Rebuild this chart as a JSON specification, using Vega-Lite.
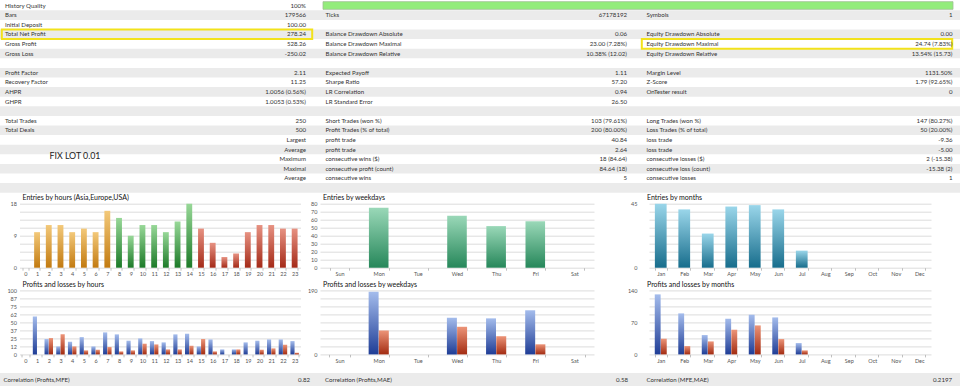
{
  "$schema": "https://vega.github.io/schema/vega-lite/v6.json",
  "padding": 0,
  "background": "white",
  "columns": 3,
  "spacing": {"row": 22.7, "column": 0},
  "bounds": "flush",
  "center": true,
  "config": {
    "view": {"stroke": null},
    "font": "Lato",
    "axis": {"labelFont": "Lato", "labelFontSize": 5.5, "labelColor": "#555", "domain": false, "ticks": false, "gridColor": "#d4d4d4", "gridWidth": 0.8, "labelPadding": 2},
    "axisX": {"grid": false, "ticks": true, "tickBand": "extent", "tickSize": 2.5, "tickColor": "#b0b0b0", "tickWidth": 0.8, "labelAngle": 0, "labelPadding": 1.5},
    "axisY": {"grid": true, "labelPadding": 3},
    "title": {"anchor": "start", "frame": "group", "font": "Lato", "fontSize": 7, "fontWeight": "normal", "color": "#111", "offset": 0.8, "dx": 3}
  },
  "datasets": {
    "rows": [{"row":0},{"row":1},{"row":2},{"row":3},{"row":4},{"row":5},{"row":6},{"row":7},{"row":8},{"row":9},{"row":10},{"row":11},{"row":12},{"row":13},{"row":14},{"row":15},{"row":16},{"row":17},{"row":18},{"row":19}],
    "quality": [{"row":0,"quality":100}],
    "highlights": [{"row":3,"col":"a"},{"row":4,"col":"c"}],
    "notes": [{"row":16,"col":"a","note":"FIX LOT 0.01"}],
    "table": [
      {"row":0,"col":"a","label":"History Quality","value":"100%"},
      {"row":1,"col":"a","label":"Bars","value":"179566"},
      {"row":1,"col":"b","label":"Ticks","value":"67178192"},
      {"row":1,"col":"c","label":"Symbols","value":"1"},
      {"row":2,"col":"a","label":"Initial Deposit","value":"100.00"},
      {"row":3,"col":"a","label":"Total Net Profit","value":"278.24"},
      {"row":3,"col":"b","label":"Balance Drawdown Absolute","value":"0.06"},
      {"row":3,"col":"c","label":"Equity Drawdown Absolute","value":"0.00"},
      {"row":4,"col":"a","label":"Gross Profit","value":"528.26"},
      {"row":4,"col":"b","label":"Balance Drawdown Maximal","value":"23.00 (7.28%)"},
      {"row":4,"col":"c","label":"Equity Drawdown Maximal","value":"24.74 (7.83%)"},
      {"row":5,"col":"a","label":"Gross Loss","value":"-250.02"},
      {"row":5,"col":"b","label":"Balance Drawdown Relative","value":"10.38% (12.02)"},
      {"row":5,"col":"c","label":"Equity Drawdown Relative","value":"13.54% (15.73)"},
      {"row":7,"col":"a","label":"Profit Factor","value":"2.11"},
      {"row":7,"col":"b","label":"Expected Payoff","value":"1.11"},
      {"row":7,"col":"c","label":"Margin Level","value":"1131.50%"},
      {"row":8,"col":"a","label":"Recovery Factor","value":"11.25"},
      {"row":8,"col":"b","label":"Sharpe Ratio","value":"57.20"},
      {"row":8,"col":"c","label":"Z-Score","value":"1.79 (92.65%)"},
      {"row":9,"col":"a","label":"AHPR","value":"1.0056 (0.56%)"},
      {"row":9,"col":"b","label":"LR Correlation","value":"0.94"},
      {"row":9,"col":"c","label":"OnTester result","value":"0"},
      {"row":10,"col":"a","label":"GHPR","value":"1.0053 (0.53%)"},
      {"row":10,"col":"b","label":"LR Standard Error","value":"26.50"},
      {"row":12,"col":"a","label":"Total Trades","value":"250"},
      {"row":12,"col":"b","label":"Short Trades (won %)","value":"103 (79.61%)"},
      {"row":12,"col":"c","label":"Long Trades (won %)","value":"147 (80.27%)"},
      {"row":13,"col":"a","label":"Total Deals","value":"500"},
      {"row":13,"col":"b","label":"Profit Trades (% of total)","value":"200 (80.00%)"},
      {"row":13,"col":"c","label":"Loss Trades (% of total)","value":"50 (20.00%)"},
      {"row":14,"col":"a","label":"","value":"Largest"},
      {"row":14,"col":"b","label":"profit trade","value":"40.84"},
      {"row":14,"col":"c","label":"loss trade","value":"-9.36"},
      {"row":15,"col":"a","label":"","value":"Average"},
      {"row":15,"col":"b","label":"profit trade","value":"2.64"},
      {"row":15,"col":"c","label":"loss trade","value":"-5.00"},
      {"row":16,"col":"a","label":"","value":"Maximum"},
      {"row":16,"col":"b","label":"consecutive wins ($)","value":"18 (84.64)"},
      {"row":16,"col":"c","label":"consecutive losses ($)","value":"2 (-15.38)"},
      {"row":17,"col":"a","label":"","value":"Maximal"},
      {"row":17,"col":"b","label":"consecutive profit (count)","value":"84.64 (18)"},
      {"row":17,"col":"c","label":"consecutive loss (count)","value":"-15.38 (2)"},
      {"row":18,"col":"a","label":"","value":"Average"},
      {"row":18,"col":"b","label":"consecutive wins","value":"5"},
      {"row":18,"col":"c","label":"consecutive losses","value":"1"}
    ],
    "bottom": [
      {"row":0,"col":"a","label":"Correlation (Profits,MFE)","value":"0.82"},
      {"row":0,"col":"b","label":"Correlation (Profits,MAE)","value":"0.58"},
      {"row":0,"col":"c","label":"Correlation (MFE,MAE)","value":"0.2197"}
    ],
    "hours": [
      {"hour":0,"session":"Asia","entries":0},{"hour":1,"session":"Asia","entries":10},{"hour":2,"session":"Asia","entries":12},{"hour":3,"session":"Asia","entries":12},
      {"hour":4,"session":"Asia","entries":10},{"hour":5,"session":"Asia","entries":11},{"hour":6,"session":"Asia","entries":10},{"hour":7,"session":"Asia","entries":16},
      {"hour":8,"session":"Europe","entries":14},{"hour":9,"session":"Europe","entries":9},{"hour":10,"session":"Europe","entries":12},{"hour":11,"session":"Europe","entries":12},
      {"hour":12,"session":"Europe","entries":10},{"hour":13,"session":"Europe","entries":13},{"hour":14,"session":"Europe","entries":18},
      {"hour":15,"session":"USA","entries":11},{"hour":16,"session":"USA","entries":7},{"hour":17,"session":"USA","entries":3},{"hour":18,"session":"USA","entries":4},
      {"hour":19,"session":"USA","entries":10},{"hour":20,"session":"USA","entries":12},{"hour":21,"session":"USA","entries":12},{"hour":22,"session":"USA","entries":11},{"hour":23,"session":"USA","entries":11}
    ],
    "hoursPL": [
      {"hour":0,"kind":"profit","amount":0},{"hour":0,"kind":"loss","amount":0},
      {"hour":1,"kind":"profit","amount":59.4},{"hour":1,"kind":"loss","amount":0},
      {"hour":2,"kind":"profit","amount":24},{"hour":2,"kind":"loss","amount":25.5},
      {"hour":3,"kind":"profit","amount":12.5},{"hour":3,"kind":"loss","amount":31.3},
      {"hour":4,"kind":"profit","amount":19.8},{"hour":4,"kind":"loss","amount":12.5},
      {"hour":5,"kind":"profit","amount":27},{"hour":5,"kind":"loss","amount":6.3},
      {"hour":6,"kind":"profit","amount":12.5},{"hour":6,"kind":"loss","amount":7.3},
      {"hour":7,"kind":"profit","amount":34.4},{"hour":7,"kind":"loss","amount":11.5},
      {"hour":8,"kind":"profit","amount":31.3},{"hour":8,"kind":"loss","amount":4.7},
      {"hour":9,"kind":"profit","amount":21.4},{"hour":9,"kind":"loss","amount":6.3},
      {"hour":10,"kind":"profit","amount":25},{"hour":10,"kind":"loss","amount":16.7},
      {"hour":11,"kind":"profit","amount":20.8},{"hour":11,"kind":"loss","amount":15.6},
      {"hour":12,"kind":"profit","amount":18.8},{"hour":12,"kind":"loss","amount":7.8},
      {"hour":13,"kind":"profit","amount":31.3},{"hour":13,"kind":"loss","amount":7.8},
      {"hour":14,"kind":"profit","amount":32.3},{"hour":14,"kind":"loss","amount":13.5},
      {"hour":15,"kind":"profit","amount":12.5},{"hour":15,"kind":"loss","amount":24},
      {"hour":16,"kind":"profit","amount":23.4},{"hour":16,"kind":"loss","amount":4.7},
      {"hour":17,"kind":"profit","amount":7.8},{"hour":17,"kind":"loss","amount":0},
      {"hour":18,"kind":"profit","amount":7.8},{"hour":18,"kind":"loss","amount":7.8},
      {"hour":19,"kind":"profit","amount":18.8},{"hour":19,"kind":"loss","amount":0},
      {"hour":20,"kind":"profit","amount":21.4},{"hour":20,"kind":"loss","amount":7.3},
      {"hour":21,"kind":"profit","amount":23.4},{"hour":21,"kind":"loss","amount":9.4},
      {"hour":22,"kind":"profit","amount":23.4},{"hour":22,"kind":"loss","amount":15.1},
      {"hour":23,"kind":"profit","amount":20.8},{"hour":23,"kind":"loss","amount":2.6}
    ],
    "weekdays": [
      {"day":"Sun","entries":0},{"day":"Mon","entries":75},{"day":"Tue","entries":0},{"day":"Wed","entries":65},
      {"day":"Thu","entries":52},{"day":"Fri","entries":58},{"day":"Sat","entries":0}
    ],
    "weekdaysPL": [
      {"day":"Sun","kind":"profit","amount":0},{"day":"Sun","kind":"loss","amount":0},
      {"day":"Mon","kind":"profit","amount":186},{"day":"Mon","kind":"loss","amount":71},
      {"day":"Tue","kind":"profit","amount":0},{"day":"Tue","kind":"loss","amount":0},
      {"day":"Wed","kind":"profit","amount":109},{"day":"Wed","kind":"loss","amount":82},
      {"day":"Thu","kind":"profit","amount":107},{"day":"Thu","kind":"loss","amount":54},
      {"day":"Fri","kind":"profit","amount":131},{"day":"Fri","kind":"loss","amount":30},
      {"day":"Sat","kind":"profit","amount":0},{"day":"Sat","kind":"loss","amount":0}
    ],
    "months": [
      {"month":"Jan","entries":45},{"month":"Feb","entries":41},{"month":"Mar","entries":24},{"month":"Apr","entries":43},
      {"month":"May","entries":44},{"month":"Jun","entries":41},{"month":"Jul","entries":12},{"month":"Aug","entries":0},
      {"month":"Sep","entries":0},{"month":"Oct","entries":0},{"month":"Nov","entries":0},{"month":"Dec","entries":0}
    ],
    "monthsPL": [
      {"month":"Jan","kind":"profit","amount":131.3},{"month":"Jan","kind":"loss","amount":34.3},
      {"month":"Feb","kind":"profit","amount":89.7},{"month":"Feb","kind":"loss","amount":18.2},
      {"month":"Mar","kind":"profit","amount":42.3},{"month":"Mar","kind":"loss","amount":28.4},
      {"month":"Apr","kind":"profit","amount":78},{"month":"Apr","kind":"loss","amount":54},
      {"month":"May","kind":"profit","amount":86.8},{"month":"May","kind":"loss","amount":63.4},
      {"month":"Jun","kind":"profit","amount":80.9},{"month":"Jun","kind":"loss","amount":33.5},
      {"month":"Jul","kind":"profit","amount":24.8},{"month":"Jul","kind":"loss","amount":8.8},
      {"month":"Aug","kind":"profit","amount":0},{"month":"Aug","kind":"loss","amount":0},
      {"month":"Sep","kind":"profit","amount":0},{"month":"Sep","kind":"loss","amount":0},
      {"month":"Oct","kind":"profit","amount":0},{"month":"Oct","kind":"loss","amount":0},
      {"month":"Nov","kind":"profit","amount":0},{"month":"Nov","kind":"loss","amount":0},
      {"month":"Dec","kind":"profit","amount":0},{"month":"Dec","kind":"loss","amount":0}
    ]
  },
  "concat": [
    {
      "width": 320,
      "height": 180.6,
      "encoding": {
        "y": {"field": "row", "type": "ordinal", "scale": {"type": "band", "domain": [0,1,2,3,4,5,6,7,8,9,10,11,12,13,14,15,16,17,18,19], "range": [0.5, 192.5], "paddingInner": 0, "paddingOuter": 0}, "axis": null}
      },
      "layer": [
        {"data": {"name": "rows"}, "transform": [{"filter": "datum.row % 2 == 1"}], "mark": {"type": "rect", "fill": "#ebebeb"}},
        {
          "data": {"name": "highlights"},
          "transform": [{"filter": "datum.col == 'a'"}],
          "mark": {"type": "rect", "fill": null, "stroke": "#f2e21c", "strokeWidth": 2, "width": {"band": 0.97}, "xOffset": -3},
          "encoding": {"x": {"field": "col", "type": "nominal", "scale": {"type": "band", "domain": ["a"], "paddingInner": 0, "paddingOuter": 0}, "axis": null}}
        },
        {
          "data": {"name": "table"},
          "transform": [{"filter": "datum.col == 'a'"}],
          "mark": {"type": "text", "align": "left", "baseline": "middle", "font": "Lato", "fontSize": 6.1, "color": "#333", "dx": 5},
          "encoding": {
            "x": {"field": "col", "type": "nominal", "bandPosition": 0, "scale": {"type": "band", "domain": ["a"], "paddingInner": 0, "paddingOuter": 0}, "axis": null},
            "text": {"field": "label"}
          }
        },
        {
          "data": {"name": "table"},
          "transform": [{"filter": "datum.col == 'a'"}],
          "mark": {"type": "text", "align": "right", "baseline": "middle", "font": "Lato", "fontSize": 6.1, "color": "#333", "dx": -14},
          "encoding": {
            "x": {"field": "col", "type": "nominal", "bandPosition": 1, "scale": {"type": "band", "domain": ["a"], "paddingInner": 0, "paddingOuter": 0}, "axis": null},
            "text": {"field": "value"}
          }
        },
        {
          "data": {"name": "notes"},
          "mark": {"type": "text", "align": "left", "baseline": "middle", "font": "Lato", "fontSize": 8.8, "color": "#222", "dx": 49.5, "dy": -3.5},
          "encoding": {
            "x": {"field": "col", "type": "nominal", "bandPosition": 0, "scale": {"type": "band", "domain": ["a"], "paddingInner": 0, "paddingOuter": 0}, "axis": null},
            "text": {"field": "note"}
          }
        }
      ]
    },
    {
      "width": 320,
      "height": 180.6,
      "resolve": {"scale": {"x": "independent"}},
      "encoding": {
        "y": {"field": "row", "type": "ordinal", "scale": {"type": "band", "domain": [0,1,2,3,4,5,6,7,8,9,10,11,12,13,14,15,16,17,18,19], "range": [0.5, 192.5], "paddingInner": 0, "paddingOuter": 0}, "axis": null}
      },
      "layer": [
        {"data": {"name": "rows"}, "transform": [{"filter": "datum.row % 2 == 1"}], "mark": {"type": "rect", "fill": "#ebebeb"}},
        {
          "data": {"name": "quality"},
          "mark": {"type": "bar", "fill": "#93ec7b", "stroke": "#9fbf94", "strokeWidth": 0.8, "height": {"band": 0.8}},
          "encoding": {"x": {"field": "quality", "type": "quantitative", "scale": {"domain": [0, 100], "range": [3, 633]}, "axis": null}}
        },
        {
          "data": {"name": "table"},
          "transform": [{"filter": "datum.col == 'b'"}],
          "mark": {"type": "text", "align": "left", "baseline": "middle", "font": "Lato", "fontSize": 6.1, "color": "#333", "dx": 5.5},
          "encoding": {
            "x": {"field": "col", "type": "nominal", "bandPosition": 0, "scale": {"type": "band", "domain": ["b"], "paddingInner": 0, "paddingOuter": 0}, "axis": null},
            "text": {"field": "label"}
          }
        },
        {
          "data": {"name": "table"},
          "transform": [{"filter": "datum.col == 'b'"}],
          "mark": {"type": "text", "align": "right", "baseline": "middle", "font": "Lato", "fontSize": 6.1, "color": "#333", "dx": -13},
          "encoding": {
            "x": {"field": "col", "type": "nominal", "bandPosition": 1, "scale": {"type": "band", "domain": ["b"], "paddingInner": 0, "paddingOuter": 0}, "axis": null},
            "text": {"field": "value"}
          }
        }
      ]
    },
    {
      "width": 320,
      "height": 180.6,
      "encoding": {
        "y": {"field": "row", "type": "ordinal", "scale": {"type": "band", "domain": [0,1,2,3,4,5,6,7,8,9,10,11,12,13,14,15,16,17,18,19], "range": [0.5, 192.5], "paddingInner": 0, "paddingOuter": 0}, "axis": null}
      },
      "layer": [
        {"data": {"name": "rows"}, "transform": [{"filter": "datum.row % 2 == 1"}], "mark": {"type": "rect", "fill": "#ebebeb"}},
        {
          "data": {"name": "highlights"},
          "transform": [{"filter": "datum.col == 'c'"}],
          "mark": {"type": "rect", "fill": null, "stroke": "#f2e21c", "strokeWidth": 2, "width": {"band": 0.97}, "xOffset": -3},
          "encoding": {"x": {"field": "col", "type": "nominal", "scale": {"type": "band", "domain": ["c"], "paddingInner": 0, "paddingOuter": 0}, "axis": null}}
        },
        {
          "data": {"name": "table"},
          "transform": [{"filter": "datum.col == 'c'"}],
          "mark": {"type": "text", "align": "left", "baseline": "middle", "font": "Lato", "fontSize": 6.1, "color": "#333", "dx": 6.5},
          "encoding": {
            "x": {"field": "col", "type": "nominal", "bandPosition": 0, "scale": {"type": "band", "domain": ["c"], "paddingInner": 0, "paddingOuter": 0}, "axis": null},
            "text": {"field": "label"}
          }
        },
        {
          "data": {"name": "table"},
          "transform": [{"filter": "datum.col == 'c'"}],
          "mark": {"type": "text", "align": "right", "baseline": "middle", "font": "Lato", "fontSize": 6.1, "color": "#333", "dx": -7.5},
          "encoding": {
            "x": {"field": "col", "type": "nominal", "bandPosition": 1, "scale": {"type": "band", "domain": ["c"], "paddingInner": 0, "paddingOuter": 0}, "axis": null},
            "text": {"field": "value"}
          }
        }
      ]
    },
    {
      "width": 281,
      "height": 64,
      "title": "Entries by hours (Asia,Europe,USA)",
      "data": {"name": "hours"},
      "encoding": {
        "x": {"field": "hour", "type": "ordinal", "title": null, "scale": {"type": "band", "domain": [0,1,2,3,4,5,6,7,8,9,10,11,12,13,14,15,16,17,18,19,20,21,22,23], "paddingInner": 0.5, "paddingOuter": 0.25}},
        "y": {"field": "entries", "type": "quantitative", "title": null, "scale": {"domain": [0, 18], "nice": false}, "axis": {"values": [0, 2.25, 4.5, 6.75, 9, 11.25, 13.5, 15.75, 18], "labelExpr": "datum.value % 9 == 0 ? datum.label : ''"}}
      },
      "layer": [
        {
          "transform": [{"filter": "datum.session == 'Asia'"}],
          "mark": {"type": "bar", "fill": {"gradient": "linear", "x1": 0, "y1": 0, "x2": 0, "y2": 1, "stops": [{"offset": 0, "color": "#f3c97a"}, {"offset": 1, "color": "#c27a10"}]}}
        },
        {
          "transform": [{"filter": "datum.session == 'Europe'"}],
          "mark": {"type": "bar", "fill": {"gradient": "linear", "x1": 0, "y1": 0, "x2": 0, "y2": 1, "stops": [{"offset": 0, "color": "#98d898"}, {"offset": 1, "color": "#1c7a28"}]}}
        },
        {
          "transform": [{"filter": "datum.session == 'USA'"}],
          "mark": {"type": "bar", "fill": {"gradient": "linear", "x1": 0, "y1": 0, "x2": 0, "y2": 1, "stops": [{"offset": 0, "color": "#e79282"}, {"offset": 1, "color": "#a42a18"}]}}
        }
      ]
    },
    {
      "width": 274,
      "height": 64,
      "title": "Entries by weekdays",
      "data": {"name": "weekdays"},
      "mark": {"type": "bar", "fill": {"gradient": "linear", "x1": 0, "y1": 0, "x2": 0, "y2": 1, "stops": [{"offset": 0, "color": "#9ad8b8"}, {"offset": 1, "color": "#26875a"}]}},
      "encoding": {
        "x": {"field": "day", "type": "nominal", "title": null, "sort": null, "scale": {"type": "band", "domain": ["Sun","Mon","Tue","Wed","Thu","Fri","Sat"], "paddingInner": 0.5, "paddingOuter": 0.25}},
        "y": {"field": "entries", "type": "quantitative", "title": null, "scale": {"domain": [0, 80], "nice": false}, "axis": {"values": [0, 10, 20, 30, 40, 50, 60, 70, 80]}}
      }
    },
    {
      "width": 288,
      "height": 64,
      "title": {"text": "Entries by months", "dx": 7},
      "data": {"name": "months"},
      "mark": {"type": "bar", "fill": {"gradient": "linear", "x1": 0, "y1": 0, "x2": 0, "y2": 1, "stops": [{"offset": 0, "color": "#9ad6ea"}, {"offset": 1, "color": "#176d8c"}]}},
      "encoding": {
        "x": {"field": "month", "type": "nominal", "title": null, "sort": null, "scale": {"type": "band", "domain": ["Jan","Feb","Mar","Apr","May","Jun","Jul","Aug","Sep","Oct","Nov","Dec"], "range": [9, 291], "paddingInner": 0.5, "paddingOuter": 0.25}},
        "y": {"field": "entries", "type": "quantitative", "title": null, "scale": {"domain": [0, 45], "nice": false}, "axis": {"values": [0, 5.625, 11.25, 16.875, 22.5, 28.125, 33.75, 39.375, 45], "labelExpr": "datum.value == 0 || datum.value == 45 ? datum.label : ''"}}
      }
    },
    {
      "width": 281,
      "height": 64,
      "title": "Profits and losses by hours",
      "data": {"name": "hoursPL"},
      "encoding": {
        "x": {"field": "hour", "type": "ordinal", "title": null, "scale": {"type": "band", "domain": [0,1,2,3,4,5,6,7,8,9,10,11,12,13,14,15,16,17,18,19,20,21,22,23], "paddingInner": 0.26, "paddingOuter": 0.13}},
        "y": {"field": "amount", "type": "quantitative", "title": null, "scale": {"domain": [0, 100], "nice": false}, "axis": {"values": [0, 12.5, 25, 37.5, 50, 62.5, 75, 87.5, 100], "labelExpr": "'' + floor(datum.value)"}}
      },
      "layer": [
        {
          "transform": [{"filter": "datum.kind == 'profit'"}],
          "mark": {"type": "bar", "width": {"band": 0.48}, "xOffset": -2.17, "fill": {"gradient": "linear", "x1": 0, "y1": 0, "x2": 0, "y2": 1, "stops": [{"offset": 0, "color": "#a4bcec"}, {"offset": 1, "color": "#1f3d96"}]}}
        },
        {
          "transform": [{"filter": "datum.kind == 'loss'"}],
          "mark": {"type": "bar", "width": {"band": 0.48}, "xOffset": 2.17, "fill": {"gradient": "linear", "x1": 0, "y1": 0, "x2": 0, "y2": 1, "stops": [{"offset": 0, "color": "#ec9478"}, {"offset": 1, "color": "#a32c12"}]}}
        }
      ]
    },
    {
      "width": 274,
      "height": 64,
      "title": "Profits and losses by weekdays",
      "data": {"name": "weekdaysPL"},
      "encoding": {
        "x": {"field": "day", "type": "nominal", "title": null, "sort": null, "scale": {"type": "band", "domain": ["Sun","Mon","Tue","Wed","Thu","Fri","Sat"], "paddingInner": 0.48, "paddingOuter": 0.24}},
        "y": {"field": "amount", "type": "quantitative", "title": null, "scale": {"domain": [0, 190], "nice": false}, "axis": {"values": [0, 23.75, 47.5, 71.25, 95, 118.75, 142.5, 166.25, 190], "labelExpr": "datum.value == 0 || datum.value == 190 ? datum.label : ''"}}
      },
      "layer": [
        {
          "transform": [{"filter": "datum.kind == 'profit'"}],
          "mark": {"type": "bar", "width": {"band": 0.49}, "xOffset": -5.1, "fill": {"gradient": "linear", "x1": 0, "y1": 0, "x2": 0, "y2": 1, "stops": [{"offset": 0, "color": "#a4bcec"}, {"offset": 1, "color": "#1f3d96"}]}}
        },
        {
          "transform": [{"filter": "datum.kind == 'loss'"}],
          "mark": {"type": "bar", "width": {"band": 0.49}, "xOffset": 5.1, "fill": {"gradient": "linear", "x1": 0, "y1": 0, "x2": 0, "y2": 1, "stops": [{"offset": 0, "color": "#ec9478"}, {"offset": 1, "color": "#a32c12"}]}}
        }
      ]
    },
    {
      "width": 288,
      "height": 64,
      "title": {"text": "Profits and losses by months", "dx": 7},
      "data": {"name": "monthsPL"},
      "encoding": {
        "x": {"field": "month", "type": "nominal", "title": null, "sort": null, "scale": {"type": "band", "domain": ["Jan","Feb","Mar","Apr","May","Jun","Jul","Aug","Sep","Oct","Nov","Dec"], "range": [9, 291], "paddingInner": 0.48, "paddingOuter": 0.24}},
        "y": {"field": "amount", "type": "quantitative", "title": null, "scale": {"domain": [0, 140], "nice": false}, "axis": {"values": [0, 17.5, 35, 52.5, 70, 87.5, 105, 122.5, 140], "labelExpr": "datum.value % 70 == 0 ? datum.label : ''"}}
      },
      "layer": [
        {
          "transform": [{"filter": "datum.kind == 'profit'"}],
          "mark": {"type": "bar", "width": {"band": 0.48}, "xOffset": -3.05, "fill": {"gradient": "linear", "x1": 0, "y1": 0, "x2": 0, "y2": 1, "stops": [{"offset": 0, "color": "#a4bcec"}, {"offset": 1, "color": "#1f3d96"}]}}
        },
        {
          "transform": [{"filter": "datum.kind == 'loss'"}],
          "mark": {"type": "bar", "width": {"band": 0.48}, "xOffset": 3.05, "fill": {"gradient": "linear", "x1": 0, "y1": 0, "x2": 0, "y2": 1, "stops": [{"offset": 0, "color": "#ec9478"}, {"offset": 1, "color": "#a32c12"}]}}
        }
      ]
    },
    {
      "width": 320,
      "height": 9.3,
      "data": {"name": "bottom"},
      "transform": [{"filter": "datum.col == 'a'"}],
      "encoding": {
        "y": {"field": "row", "type": "ordinal", "scale": {"type": "band", "domain": [0], "range": [-4, 9.3], "paddingInner": 0, "paddingOuter": 0}, "axis": null},
        "x": {"field": "col", "type": "nominal", "scale": {"type": "band", "domain": ["a"], "paddingInner": 0, "paddingOuter": 0}, "axis": null}
      },
      "layer": [
        {"mark": {"type": "rect", "fill": "#ebebeb"}},
        {"mark": {"type": "text", "align": "left", "baseline": "middle", "font": "Lato", "fontSize": 6.1, "color": "#333", "dx": 3.5}, "encoding": {"x": {"field": "col", "type": "nominal", "bandPosition": 0}, "text": {"field": "label"}}},
        {"mark": {"type": "text", "align": "right", "baseline": "middle", "font": "Lato", "fontSize": 6.1, "color": "#333", "dx": -10}, "encoding": {"x": {"field": "col", "type": "nominal", "bandPosition": 1}, "text": {"field": "value"}}}
      ]
    },
    {
      "width": 320,
      "height": 9.3,
      "data": {"name": "bottom"},
      "transform": [{"filter": "datum.col == 'b'"}],
      "encoding": {
        "y": {"field": "row", "type": "ordinal", "scale": {"type": "band", "domain": [0], "range": [-4, 9.3], "paddingInner": 0, "paddingOuter": 0}, "axis": null},
        "x": {"field": "col", "type": "nominal", "scale": {"type": "band", "domain": ["b"], "paddingInner": 0, "paddingOuter": 0}, "axis": null}
      },
      "layer": [
        {"mark": {"type": "rect", "fill": "#ebebeb"}},
        {"mark": {"type": "text", "align": "left", "baseline": "middle", "font": "Lato", "fontSize": 6.1, "color": "#333", "dx": 5}, "encoding": {"x": {"field": "col", "type": "nominal", "bandPosition": 0}, "text": {"field": "label"}}},
        {"mark": {"type": "text", "align": "right", "baseline": "middle", "font": "Lato", "fontSize": 6.1, "color": "#333", "dx": -12}, "encoding": {"x": {"field": "col", "type": "nominal", "bandPosition": 1}, "text": {"field": "value"}}}
      ]
    },
    {
      "width": 320,
      "height": 9.3,
      "data": {"name": "bottom"},
      "transform": [{"filter": "datum.col == 'c'"}],
      "encoding": {
        "y": {"field": "row", "type": "ordinal", "scale": {"type": "band", "domain": [0], "range": [-4, 9.3], "paddingInner": 0, "paddingOuter": 0}, "axis": null},
        "x": {"field": "col", "type": "nominal", "scale": {"type": "band", "domain": ["c"], "paddingInner": 0, "paddingOuter": 0}, "axis": null}
      },
      "layer": [
        {"mark": {"type": "rect", "fill": "#ebebeb"}},
        {"mark": {"type": "text", "align": "left", "baseline": "middle", "font": "Lato", "fontSize": 6.1, "color": "#333", "dx": 6.5}, "encoding": {"x": {"field": "col", "type": "nominal", "bandPosition": 0}, "text": {"field": "label"}}},
        {"mark": {"type": "text", "align": "right", "baseline": "middle", "font": "Lato", "fontSize": 6.1, "color": "#333", "dx": -8}, "encoding": {"x": {"field": "col", "type": "nominal", "bandPosition": 1}, "text": {"field": "value"}}}
      ]
    }
  ]
}
